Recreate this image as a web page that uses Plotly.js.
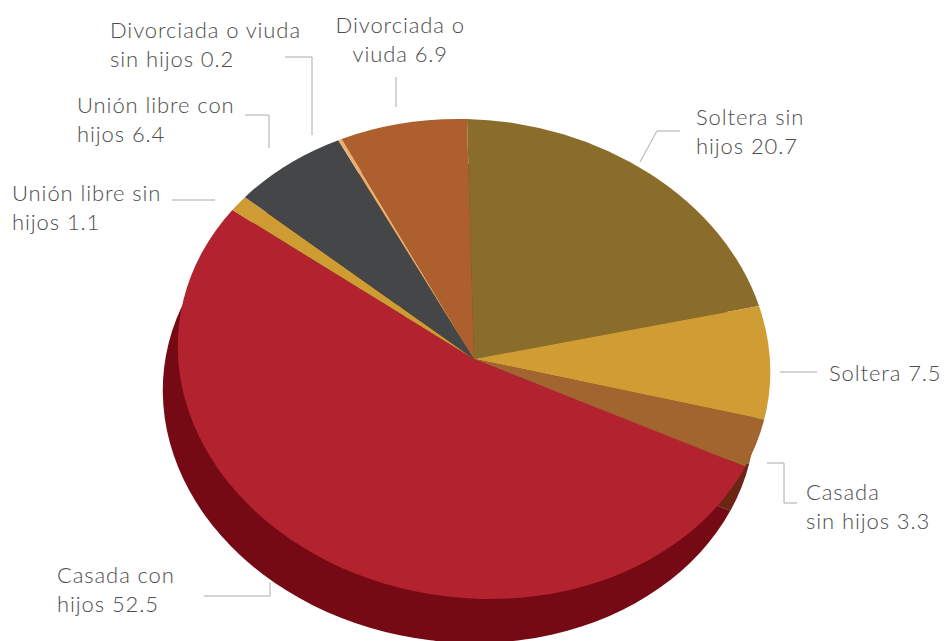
<!DOCTYPE html>
<html>
<head>
<meta charset="utf-8">
<script src="https://cdn.plot.ly/plotly-3.0.1.min.js"></script>
<style>
html,body{margin:0;padding:0;background:#fff;}
#chart{width:948px;height:641px;}
#chart .annotation-text{letter-spacing:0.9px;}
</style>
</head>
<body>
<div id="chart"></div>
<script>
// ---- data ----
const categories = [
  "Soltera sin hijos",
  "Soltera",
  "Casada sin hijos",
  "Casada con hijos",
  "Unión libre sin hijos",
  "Unión libre con hijos",
  "Divorciada o viuda sin hijos",
  "Divorciada o viuda"
];
const values = [20.7, 7.5, 3.3, 52.5, 1.1, 6.4, 0.2, 6.9];
const labelTexts = [
  "Soltera sin<br>hijos 20.7",
  "Soltera 7.5",
  "Casada<br>sin hijos 3.3",
  "Casada con<br>hijos 52.5",
  "Unión libre sin<br>hijos 1.1",
  "Unión libre con<br>hijos 6.4",
  "Divorciada o viuda<br>sin hijos 0.2",
  "Divorciada o<br>viuda 6.9"
];
const topColors  = ["#8A6D2B","#CF9D33","#A3652F","#B3222F","#CE9C32","#444648","#EEAE6E","#AD602D"];
const sideColors = ["#5E4A1C","#8E6A20","#6A2514","#760A14","#8E6A20","#2A2B2C","#B07A45","#723E1B"];

// ---- layout helpers (pixel -> paper) ----
const W = 948, H = 641;
const px = x => x / W;
const py = y => 1 - y / H;

const R = 297, CX = 474;
const dom = {x: [px(CX - R), px(CX + R)], y: [0, 1]};

const base = {
  type: "pie",
  labels: categories,
  values: values,
  sort: false,
  direction: "clockwise",
  rotation: -7,
  textinfo: "none",
  hoverinfo: "none",
  showlegend: false,
  domain: dom,
  marker: {line: {width: 0}}
};
const shadowTrace = Object.assign({}, base, {marker: {colors: sideColors, line: {width: 0}}});
const topTrace = Object.assign({}, base, {marker: {colors: topColors, line: {width: 0}}});

// label placement: [left/center x, middle y, anchor]
const labelPos = [
  [694, 131, "left"],
  [827, 372, "left"],
  [804, 506, "left"],
  [55, 589, "left"],
  [10, 207, "left"],
  [75, 119, "left"],
  [108, 44, "left"],
  [400, 39, "center"]
];
const leaders = [
  [[680,131],[657,131],[640,162]],
  [[780,372],[817,372]],
  [[767,463],[784,463],[784,503],[797,503]],
  [[204,596],[270,596],[270,582]],
  [[172,200],[215,200]],
  [[245,115],[269,115],[269,148]],
  [[285,57],[312,57],[312,135]],
  [[396,77],[396,107]]
];

const font = {family: "Lato, 'Open Sans', sans-serif", size: 22, color: "#4d4d4d", weight: 300};

const annotations = labelTexts.map((t, i) => ({
  text: t,
  xref: "paper", yref: "paper",
  x: px(labelPos[i][0]), y: py(labelPos[i][1]),
  xanchor: labelPos[i][2], yanchor: "middle",
  align: labelPos[i][2],
  showarrow: false,
  font: font
}));

const shapes = leaders.map(pts => ({
  type: "path",
  xref: "paper", yref: "paper",
  path: pts.map((p, j) => (j ? "L" : "M") + px(p[0]) + "," + py(p[1])).join(" "),
  line: {color: "#aaaaaa", width: 1}
}));

const layout = {
  width: W, height: H,
  margin: {l: 0, r: 0, t: 0, b: 0},
  paper_bgcolor: "#fff",
  plot_bgcolor: "#fff",
  annotations: annotations,
  shapes: shapes,
  font: font
};

Plotly.newPlot("chart", [shadowTrace, topTrace], layout, {staticPlot: true}).then(() => {
  // tilt the pie into a perspective ellipse
  const cy0 = H / 2;
  const T = "translate(" + CX + ",359) rotate(7) scale(1,0.805) translate(" + (-CX) + "," + (-cy0) + ")";
  const traces = document.querySelectorAll(".pielayer .trace");
  if (traces.length === 2) {
    traces[0].setAttribute("transform", "translate(-15,44) " + T);
    traces[1].setAttribute("transform", T);
  }
});
</script>
</body>
</html>
